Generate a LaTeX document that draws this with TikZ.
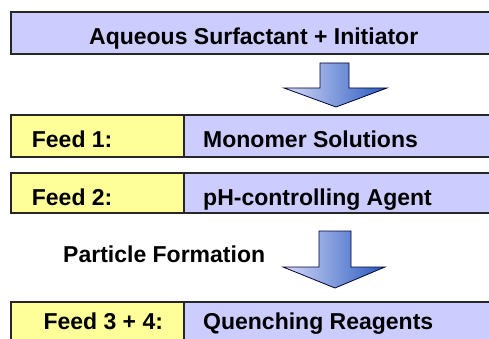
\documentclass[tikz,border=0pt]{standalone}
\usepackage{fontspec}
\setmainfont{Liberation Sans}
\begin{document}
\begin{tikzpicture}[x=1pt,y=-1pt,
  boxline/.style={draw=black!85,line width=1.6pt},
  lav/.style={boxline,fill={rgb,255:red,204;green,204;blue,255}},
  yel/.style={boxline,fill={rgb,255:red,255;green,255;blue,153}},
  lbl/.style={font=\bfseries\fontsize{23}{27}\selectfont,text=black,inner sep=0pt,anchor=base west},
  bigarrow/.style={draw=black!80!blue,line width=0.8pt,
    left color={rgb,255:red,215;green,218;blue,250},
    right color={rgb,255:red,40;green,90;blue,190}}
]
\useasboundingbox (0,0) rectangle (489,339);
\clip (0,0) rectangle (489,339);
% top box
\draw[lav] (11,12) rectangle (500,54);
\node[lbl,anchor=base] (top) at (253.7,44.3) {Aqueous Surfactant + Initiator};
% arrow 1
\draw[bigarrow] (320,63) -- (349,63) -- (349,88) -- (387,88) -- (336,107) -- (284,88) -- (320,88) -- cycle;
% Feed 1
\draw[lav] (184,115) rectangle (500,157);
\draw[yel] (11,115) rectangle (184,157);
\node[lbl] (f1) at (31.7,147.3) {Feed 1:};
\node[lbl] (m1) at (203,147.3) {Monomer Solutions};
% Feed 2
\draw[lav] (184,173) rectangle (500,213);
\draw[yel] (11,173) rectangle (184,213);
\node[lbl] (f2) at (31.7,205) {Feed 2:};
\node[lbl] (m2) at (203,205) {pH-controlling Agent};
% particle formation
\node[lbl] (pf) at (63,262.7) {Particle Formation};
\draw[bigarrow] (319,231) -- (351,231) -- (351,267) -- (385,267) -- (335,288) -- (283,267) -- (319,267) -- cycle;
% Feed 3+4
\draw[lav] (184,302) rectangle (500,360);
\draw[yel] (11,302) rectangle (184,360);
\node[lbl] (f3) at (43.3,329.3) {Feed 3 + 4:};
\node[lbl] (m3) at (203,329.3) {Quenching Reagents};
\end{tikzpicture}
\end{document}
